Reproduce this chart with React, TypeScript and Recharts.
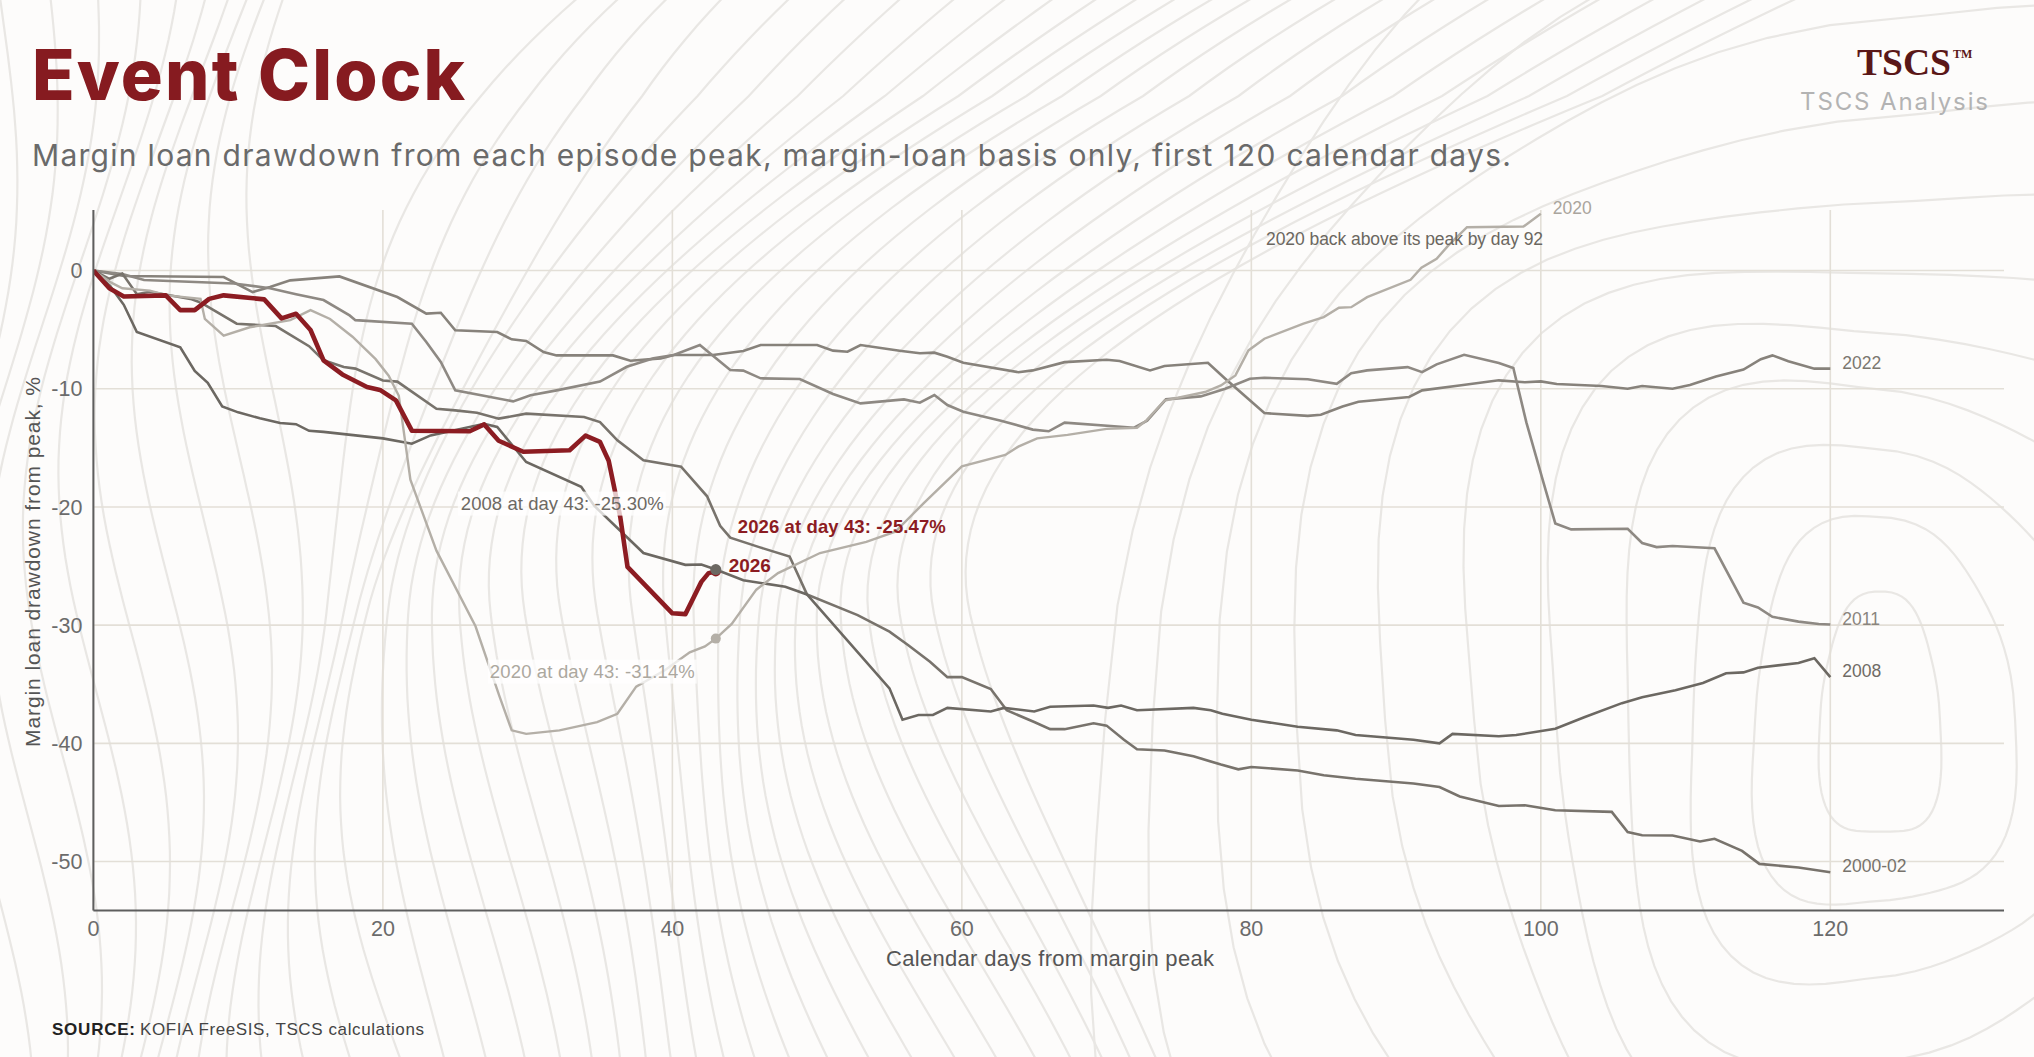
import React from "react";
import { LineChart, Line, XAxis, YAxis, CartesianGrid, ReferenceDot } from "recharts";

const W = 2034;
const H = 1057;

// ---------------- data (calendar days from margin peak, drawdown %) ----------------
const days2026 = [0, 1.1, 2.1, 5, 6, 7, 8, 9, 11.8, 13, 14, 15, 15.9, 17.2, 18.9, 19.8, 20.9, 22, 26, 27, 28, 29.7, 32.9, 34, 35, 35.6, 36.4, 36.9, 40, 40.9, 42, 42.5, 43];
const vals2026 = [0, -1.5, -2.2, -2.1, -3.35, -3.35, -2.4, -2.1, -2.44, -4.05, -3.66, -5.03, -7.6, -8.79, -9.86, -10.1, -10.98, -13.55, -13.6, -13.02, -14.4, -15.33, -15.2, -13.97, -14.5, -16.1, -20.85, -25.07, -29.0, -29.07, -26.34, -25.6, -25.47];

const days2008 = [0, 1.15, 2.1, 3, 6, 7, 7.9, 8.9, 10, 11.5, 12.9, 14, 14.9, 15.9, 20, 22, 23.3, 27, 27.9, 29.9, 33.7, 34.6, 38, 40.9, 42, 43, 44.9, 47.8, 49.3, 55, 55.9, 57, 58, 59, 62, 62.9, 65, 66.1, 69.1, 70.1, 71, 72.1, 76, 77.2, 78, 80, 83.2, 85.9, 87.2, 91.2, 93, 93.9, 97.1, 98.3, 101, 103, 105.6, 107, 109.3, 111.2, 112.8, 114, 115, 117.8, 118.9, 120];
const vals2008 = [0, -1.3, -2.9, -5.2, -6.5, -8.5, -9.5, -11.5, -12.0, -12.5, -12.9, -13.0, -13.56, -13.65, -14.2, -14.65, -13.95, -12.96, -13.24, -16.2, -18.3, -19.9, -23.9, -24.9, -24.87, -25.3, -26.2, -26.76, -27.4, -35.35, -38.0, -37.6, -37.6, -37.0, -37.3, -37.0, -37.3, -36.9, -36.8, -37.0, -36.8, -37.2, -37.0, -37.2, -37.5, -38.0, -38.6, -38.9, -39.3, -39.7, -40.0, -39.2, -39.4, -39.3, -38.76, -37.8, -36.6, -36.1, -35.5, -34.9, -34.07, -34.0, -33.6, -33.2, -32.8, -34.4];

const days2000 = [0, 1.1, 2, 3, 3.9, 6.7, 7.4, 9.9, 12.6, 14.9, 15.9, 17.3, 18.1, 20, 21, 23.7, 25, 26.5, 28, 29.9, 33.9, 35, 36.2, 38, 40.6, 42.4, 43.3, 44, 46, 48.1, 49.3, 52.8, 55, 56.3, 57.8, 59, 60, 62, 63.1, 65, 66.1, 67.1, 69.1, 70, 71.2, 72.1, 74, 76, 77.9, 79.1, 80, 83.2, 85, 87.2, 91.2, 93, 94.4, 97.1, 98.9, 101, 104.9, 106, 107, 109.1, 111, 112, 113.9, 115.1, 117.8, 120];
const vals2000 = [0, -0.7, -0.25, -2.0, -1.8, -2.4, -2.7, -4.5, -4.7, -6.4, -7.6, -8.16, -8.3, -9.3, -9.4, -11.7, -11.83, -12.03, -12.53, -12.11, -12.39, -12.82, -14.37, -16.06, -16.6, -19.1, -21.6, -22.6, -23.4, -24.2, -27.4, -29.15, -30.55, -31.7, -33.1, -34.4, -34.4, -35.4, -37.2, -38.2, -38.8, -38.8, -38.3, -38.5, -39.7, -40.5, -40.6, -41.1, -41.8, -42.2, -42.0, -42.3, -42.7, -43.0, -43.4, -43.7, -44.5, -45.3, -45.24, -45.66, -45.8, -47.5, -47.77, -47.8, -48.3, -48.07, -49.1, -50.2, -50.5, -50.9];

const days2011 = [0, 2, 3.5, 9.7, 12.2, 14, 15.9, 17.7, 18.1, 22, 23, 24, 25, 29, 30.2, 32, 35, 36.85, 38.7, 40.1, 41.9, 44, 44.9, 46.1, 48.8, 51.1, 53, 56, 57.1, 58.1, 59, 60.1, 62.7, 64.9, 66, 67.1, 71.9, 72.8, 74.1, 76.5, 78.2, 79.9, 80.9, 83.9, 85.9, 86.9, 88, 90.8, 91.8, 92.8, 94.7, 97.1, 98.1, 99, 100.2, 101, 102.1, 106, 107, 108, 109.1, 112, 114, 115, 116, 117.8, 119.2, 120];
const vals2011 = [0, -0.3, -0.8, -1.1, -1.5, -2.0, -2.5, -3.8, -4.2, -4.5, -6.05, -7.74, -10.14, -11.07, -10.56, -10.14, -9.4, -8.14, -7.43, -7.15, -6.3, -8.42, -8.47, -9.12, -9.18, -10.45, -11.24, -10.9, -11.18, -10.53, -11.38, -11.94, -12.7, -13.46, -13.6, -12.87, -13.3, -12.7, -10.9, -10.65, -10.0, -9.15, -9.07, -9.2, -9.58, -8.68, -8.45, -8.17, -8.6, -7.94, -7.13, -7.83, -8.25, -12.85, -18.0, -21.4, -21.9, -21.85, -23.05, -23.4, -23.3, -23.5, -28.1, -28.5, -29.3, -29.7, -29.9, -29.95];

const days2022 = [0, 2.1, 9, 11, 12.2, 13.6, 17, 21, 23, 24, 25, 27.9, 28.9, 29.9, 31.1, 32, 35.9, 37.1, 39.2, 40.1, 42.8, 44.9, 46.1, 50, 51.1, 52.1, 53, 55.7, 57.1, 58.1, 59, 60.1, 63.9, 64.9, 67.1, 70, 70.9, 73, 74, 77, 78.2, 80.9, 83.9, 84.8, 86.3, 87.4, 90.9, 91.8, 94.5, 97.1, 98.9, 100, 101.1, 104.2, 106, 107, 109.1, 110.3, 112.1, 114, 115.2, 116, 117.1, 118.9, 120];
const vals2022 = [0, -0.47, -0.55, -1.82, -1.4, -0.83, -0.5, -2.24, -3.65, -3.57, -5.06, -5.2, -5.82, -5.96, -6.9, -7.18, -7.18, -7.63, -7.43, -7.15, -7.15, -6.81, -6.3, -6.3, -6.78, -6.87, -6.3, -6.78, -7.0, -6.95, -7.29, -7.8, -8.6, -8.45, -7.75, -7.55, -7.66, -8.45, -8.08, -7.8, -9.15, -12.06, -12.3, -12.2, -11.5, -11.1, -10.7, -10.14, -9.7, -9.29, -9.45, -9.38, -9.6, -9.77, -10.0, -9.77, -10.0, -9.68, -8.96, -8.38, -7.5, -7.18, -7.67, -8.3, -8.3];

const days2020 = [0, 1.2, 2, 3.9, 5.1, 7.4, 7.7, 9, 10.8, 13.6, 15, 16.35, 17.9, 19.5, 20.4, 21.1, 21.6, 21.9, 23.7, 26.4, 28.05, 28.9, 29.9, 32.2, 34.8, 36.2, 37.5, 39.5, 41.2, 42.25, 43, 44.1, 45.8, 47.3, 50.2, 53.4, 55.4, 57.35, 60, 63, 63.9, 65.2, 67.3, 70, 72.1, 72.75, 74, 76.8, 77.9, 78.9, 79.8, 80.9, 83.6, 85, 86.05, 86.9, 88, 91, 91.75, 92.8, 93.6, 94.9, 98.8, 100];
const vals2020 = [0, -1.0, -1.5, -1.7, -2.1, -2.4, -4.1, -5.5, -4.8, -4.2, -3.35, -4.1, -5.6, -7.5, -8.9, -10.6, -15.0, -17.7, -23.7, -30.1, -36.0, -38.9, -39.2, -38.9, -38.2, -37.5, -35.2, -33.8, -32.3, -31.8, -31.14, -29.9, -27.0, -25.6, -23.9, -22.96, -22.1, -19.7, -16.56, -15.6, -14.9, -14.2, -13.9, -13.4, -13.3, -12.68, -11.0, -10.28, -9.72, -8.87, -6.76, -5.77, -4.5, -3.94, -3.15, -3.1, -2.25, -0.79, 0.23, 0.99, 2.1, 3.66, 3.72, 4.8];

const xTicks = [0, 20, 40, 60, 80, 100, 120];
const yTicks = [0, -10, -20, -30, -40, -50];
const MARK_DAY = 43;
const RECOVERY_DAY = 92;

// ---------------- styling ----------------
const FONT = "'Liberation Sans', Arial, Helvetica, sans-serif";
const RED = "#8c1c22";
const GRID = "#e3dfd7";
const AXIS = "#5e5e5e";
const CONTOUR = "#e9e7e4";

const rows = (d: number[], v: number[]) => d.map((x, i) => ({ d: x, v: v[i] }));

type S = { name: string; days: number[]; vals: number[]; color: string; width: number; labelColor: string };
const SERIES: S[] = [
  { name: "2022", days: days2022, vals: vals2022, color: "#87827b", width: 2.6, labelColor: "#7b776f" },
  { name: "2011", days: days2011, vals: vals2011, color: "#8e8983", width: 2.6, labelColor: "#8a857e" },
  { name: "2000-02", days: days2000, vals: vals2000, color: "#78736c", width: 2.6, labelColor: "#77736c" },
  { name: "2008", days: days2008, vals: vals2008, color: "#6c6862", width: 2.6, labelColor: "#6f6b65" },
  { name: "2020", days: days2020, vals: vals2020, color: "#b4afa7", width: 2.4, labelColor: "#aaa59d" },
];

const valAt = (d: number[], v: number[], day: number) => v[d.indexOf(day)];

const v2008at = valAt(days2008, vals2008, MARK_DAY);
const v2026at = valAt(days2026, vals2026, MARK_DAY);
const v2020at = valAt(days2020, vals2020, MARK_DAY);

// ---------------- decorative topographic backdrop ----------------
function flowLine(i: number): string {
  const xb = -40 + i * 34;
  let d = "";
  for (let y = 1090; y >= -60; y -= 14) {
    const u = (1057 - y) / 1057;
    const wob = (xb < 420 ? 40 : 22) * Math.sin(y / 150 + i * 0.42);
    const squeeze = xb > 250 ? -0.2 * (xb - 250) * Math.sin(Math.PI * Math.min(1, u * 1.1)) : 0;
    const up = Math.max(0, u - 0.42);
    const lean = xb > 280 ? up * up * (900 + (xb - 280) * 1.1) : up * up * 120;
    const x = xb + wob + squeeze + lean;
    d += (d ? " L" : "M") + x.toFixed(1) + " " + y.toFixed(1);
  }
  return d;
}

function loop(j: number): string {
  const cx = 1880;
  const cy = 720;
  const rx = 60 + 70 * j;
  const ry = 120 + 72 * j;
  let d = "";
  for (let k = 0; k <= 90; k++) {
    const t = (k / 90) * Math.PI * 2;
    const c = Math.cos(t);
    const s = Math.sin(t);
    const px = Math.sign(c) * Math.pow(Math.abs(c), 0.75);
    const py = Math.sign(s) * Math.pow(Math.abs(s), 0.75);
    const w = 1 + 0.07 * Math.sin(3 * t + j * 0.6);
    const x = cx + rx * px * w;
    const y = cy + ry * py * w;
    d += (k ? " L" : "M") + x.toFixed(1) + " " + y.toFixed(1);
  }
  return d + " Z";
}

function Background() {
  const flows = Array.from({ length: 36 }, (_, i) => flowLine(i));
  const loops = Array.from({ length: 11 }, (_, j) => loop(j));
  return (
    <svg width={W} height={H} style={{ position: "absolute", left: 0, top: 0 }}>
      <rect x={0} y={0} width={W} height={H} fill="#fdfcfb" />
      <g fill="none" stroke={CONTOUR} strokeWidth={2.2}>
        {flows.map((p, i) => (
          <path key={"f" + i} d={p} />
        ))}
        {loops.map((p, i) => (
          <path key={"l" + i} d={p} />
        ))}
      </g>
    </svg>
  );
}

function Texts() {
  return (
    <svg width={W} height={H} style={{ position: "absolute", left: 0, top: 0, pointerEvents: "none" }}>
      <text x={32} y={100} fontFamily="Inter, 'Liberation Sans', sans-serif" fontWeight={800} fontSize={70} fill="#861b20" textLength={433} lengthAdjust="spacing">
        Event Clock
      </text>
      <text x={32} y={166} fontFamily="Inter, 'Liberation Sans', sans-serif" fontSize={30} fill="#6a6a6a" textLength={1479} lengthAdjust="spacing">
        Margin loan drawdown from each episode peak, margin-loan basis only, first 120 calendar days.
      </text>
      <text x={1857} y={75} fontFamily="'Liberation Serif', 'DejaVu Serif', serif" fontWeight={700} fontSize={37} fill="#5a1717" textLength={94} lengthAdjust="spacingAndGlyphs">
        TSCS
      </text>
      <text x={1953} y={58} fontFamily="'Liberation Serif', serif" fontWeight={700} fontSize={12} fill="#5a1717">
        TM
      </text>
      <text x={1988} y={110} textAnchor="end" fontFamily="Inter, 'Liberation Sans', sans-serif" fontSize={24} fill="#b3b3b3" textLength={188} lengthAdjust="spacing">
        TSCS Analysis
      </text>
      <text x={32} y={562} transform="rotate(-90 32 562)" textAnchor="middle" dominantBaseline="central" fontFamily={FONT} fontSize={21} fill="#555" textLength={370} lengthAdjust="spacing">
        Margin loan drawdown from peak, %
      </text>
      <text x={1050} y={958} textAnchor="middle" dominantBaseline="central" fontFamily={FONT} fontSize={22} fill="#555" textLength={328} lengthAdjust="spacing">
        Calendar days from margin peak
      </text>
      <text x={52} y={1029} dominantBaseline="central" fontFamily={FONT} fontSize={17} fontWeight={700} fill="#222" textLength={83} lengthAdjust="spacing">
        SOURCE:
      </text>
      <text x={140} y={1029} dominantBaseline="central" fontFamily={FONT} fontSize={17} fill="#444" textLength={284} lengthAdjust="spacing">
        KOFIA FreeSIS, TSCS calculations
      </text>
    </svg>
  );
}

const endLabel = (name: string, color: string) => (p: any) => (
  <text x={p.cx + 12} y={p.cy - 6} dominantBaseline="central" fontFamily={FONT} fontSize={17.5} fill={color}>
    {name}
  </text>
);

export default function App() {
  return (
    <div style={{ position: "absolute", left: 0, top: 0, width: W, height: H, overflow: "hidden" }}>
      <Background />
      <div style={{ position: "absolute", left: 0, top: 0 }}>
        <LineChart width={W} height={H} margin={{ top: 210, right: 30, bottom: 86.4, left: 0 }}>
          <CartesianGrid stroke={GRID} strokeWidth={1.6} syncWithTicks />
          <XAxis
            dataKey="d"
            type="number"
            domain={[0, 132]}
            ticks={xTicks}
            allowDataOverflow
            height={60}
            stroke={AXIS}
            strokeWidth={2}
            tickLine={false}
            tickSize={0}
            tickMargin={10}
            tick={{ fontFamily: FONT, fontSize: 21.5, fill: "#6b6b6b" }}
          />
          <YAxis
            type="number"
            domain={[-54.15, 5.12]}
            ticks={yTicks}
            allowDataOverflow
            width={93.4}
            stroke={AXIS}
            strokeWidth={2}
            tickLine={false}
            tickSize={0}
            tickMargin={11}
            tick={{ fontFamily: FONT, fontSize: 21.5, fill: "#6b6b6b" }}
          />
          {SERIES.map((s) => (
            <Line
              key={s.name}
              data={rows(s.days, s.vals)}
              dataKey="v"
              name={s.name}
              type="linear"
              stroke={s.color}
              strokeWidth={s.width}
              dot={false}
              activeDot={false}
              isAnimationActive={false}
            />
          ))}
          <Line
            data={rows(days2026, vals2026)}
            dataKey="v"
            name="2026"
            type="linear"
            stroke={RED}
            strokeWidth={4.6}
            strokeLinejoin="round"
            dot={false}
            activeDot={false}
            isAnimationActive={false}
          />

          {SERIES.map((s) => (
            <ReferenceDot
              key={"lbl" + s.name}
              x={s.days[s.days.length - 1]}
              y={s.vals[s.vals.length - 1]}
              r={1}
              ifOverflow="visible"
              shape={endLabel(s.name, s.labelColor)}
            />
          ))}

          {/* 2020 recovery note */}
          <ReferenceDot
            x={RECOVERY_DAY}
            y={valAt(days2020, vals2020, 91.75)}
            r={1}
            ifOverflow="visible"
            shape={(p: any) => (
              <text x={p.cx + 118} y={p.cy - 29} textAnchor="end" dominantBaseline="central" fontFamily={FONT} fontSize={17.5} fill="#6b6760" textLength={277} lengthAdjust="spacing">
                2020 back above its peak by day {RECOVERY_DAY}
              </text>
            )}
          />

          {/* 2008 annotation */}
          <ReferenceDot
            x={MARK_DAY}
            y={v2008at}
            r={1}
            ifOverflow="visible"
            shape={(p: any) => (
              <g>
                <rect x={p.cx - 52 - 206} y={p.cy - 66 - 12} width={208} height={24} fill="#ffffff" fillOpacity={0.75} />
                <text x={p.cx - 52} y={p.cy - 66} textAnchor="end" dominantBaseline="central" fontFamily={FONT} fontSize={18.5} fill="#6d6963" textLength={203} lengthAdjust="spacing">
                  {`2008 at day ${MARK_DAY}: ${v2008at.toFixed(2)}%`}
                </text>
              </g>
            )}
          />
          {/* 2020 annotation */}
          <ReferenceDot
            x={MARK_DAY}
            y={v2020at}
            r={1}
            ifOverflow="visible"
            shape={(p: any) => (
              <g>
                <rect x={p.cx - 21 - 207} y={p.cy + 33 - 12} width={209} height={24} fill="#ffffff" fillOpacity={0.75} />
                <text x={p.cx - 21} y={p.cy + 33} textAnchor="end" dominantBaseline="central" fontFamily={FONT} fontSize={18.5} fill="#aca89f" textLength={205} lengthAdjust="spacing">
                  {`2020 at day ${MARK_DAY}: ${v2020at.toFixed(2)}%`}
                </text>
                <circle cx={p.cx} cy={p.cy} r={5} fill="#b4afa7" />
              </g>
            )}
          />
          {/* 2026 annotation + markers */}
          <ReferenceDot
            x={MARK_DAY}
            y={v2026at}
            r={1}
            ifOverflow="visible"
            shape={(p: any) => (
              <g>
                <circle cx={p.cx} cy={p.cy} r={5} fill={RED} />
                <text x={p.cx + 22} y={p.cy - 45.5} dominantBaseline="central" fontFamily={FONT} fontWeight={700} fontSize={18.5} fill={RED} textLength={208} lengthAdjust="spacing">
                  {`2026 at day ${MARK_DAY}: ${v2026at.toFixed(2)}%`}
                </text>
                <text x={p.cx + 13} y={p.cy - 6} dominantBaseline="central" fontFamily={FONT} fontWeight={700} fontSize={19} fill={RED} textLength={42} lengthAdjust="spacing">
                  2026
                </text>
              </g>
            )}
          />
          <ReferenceDot
            x={MARK_DAY}
            y={v2008at}
            r={5.5}
            ifOverflow="visible"
            fill="#6c6862"
            stroke="none"
          />
        </LineChart>
      </div>
      <Texts />
    </div>
  );
}
